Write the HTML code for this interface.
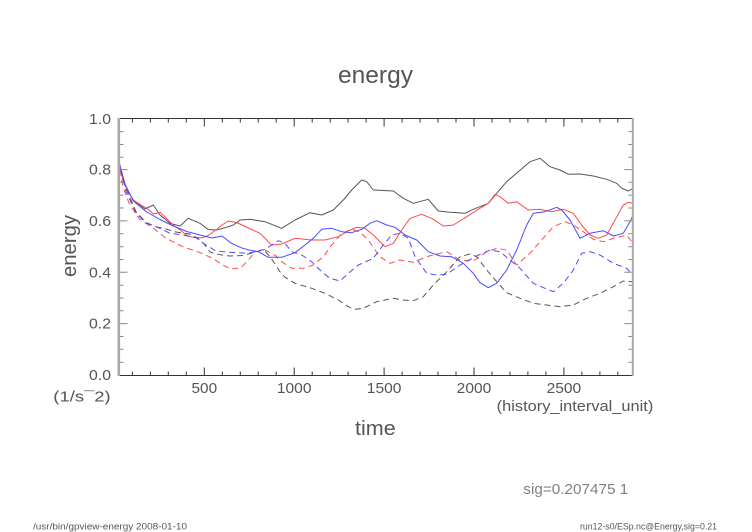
<!DOCTYPE html>
<html>
<head>
<meta charset="utf-8">
<style>
  html, body { margin: 0; padding: 0; background: #ffffff; }
  body { width: 752px; height: 532px; overflow: hidden; }
  svg { display: block; }
  text { font-family: "Liberation Sans", "DejaVu Sans", sans-serif; fill: #555555; }
</style>
</head>
<body>
<svg width="752" height="532" viewBox="0 0 752 532" xmlns="http://www.w3.org/2000/svg">
  <rect x="0" y="0" width="752" height="532" fill="#ffffff"/>

  <!-- Title -->
  <text x="338" y="83" font-size="24" textLength="75" lengthAdjust="spacingAndGlyphs">energy</text>

  <!-- Series -->
  <g fill="none" stroke-width="1" stroke-linejoin="round">
    <!-- black solid -->
    <polyline stroke="#555555" points="118.5,160 123.3,181.7 128.3,191.7 133.3,200 145,209 153.3,205 160,215 170,223.3 180,226 188.3,218.3 200,223.3 208.3,229.5 216,230 223.3,228.3 233.3,225 240,220 250,219.3 265,221.7 281.7,228.3 295,220 310,212.7 321.7,215 333.3,210 343.3,200 351.7,190 361.7,180 366.7,181.7 373.3,190 393.3,191 403.3,198.3 413.3,203.3 428.3,199.3 438.3,211 450,212.3 465,213.3 473.3,209.3 488.3,203.3 496.7,193.3 506.7,181.7 518.3,171.7 530,161.7 540,158.3 550,166.7 560,170 568.3,174.3 580,174 593.3,176 606.7,179.3 616.7,183.3 621.7,188.3 628.3,191 632.7,188.5"/>
    <!-- black dashed -->
    <polyline stroke="#555555" stroke-dasharray="6,4" points="118.5,160 126,188.3 136,211.7 146,222.5 156,226.7 166,229 176,232 189.3,234 197.7,238 204.3,244.3 210,252 216,254 229.3,256 242.7,255.5 256.7,251.7 263.3,249.3 270,256.7 275,264 280,271.7 285,277.3 295,283.3 311.7,288.3 325,293.3 338.3,300 348.3,306.7 355,309.3 363.3,308.3 376.7,301.7 393.3,298.3 403.3,300 413.3,300.7 423.3,296.7 433.3,285 446.7,271.7 460,256.7 470,254 476.7,256.7 486.7,270 496.7,281.7 506.7,292.7 520,298.3 533.3,303.3 546.7,305 560,306.7 573.3,305 586.7,298.3 600,293.3 613.3,286.7 623.3,281 632.7,281.7"/>
    <!-- red solid -->
    <polyline stroke="#ff4a4a" points="118.5,160 123.3,181.7 128.3,191.7 133.3,200 141,205 146.7,208.3 153.3,214 160,212.3 166,218 174.3,226 180,230 187.7,236 193.3,237.3 202.7,237.7 208,235.5 216,230 222,225 228.3,221 234,222 240,224 249.3,228.5 260,233.3 271.7,245 281.7,244 295,238.3 311.7,240 325,240 338.3,236.7 348.3,231 356.7,227.3 365,228.3 373.3,235 385,246.7 393.3,243.3 401.7,230 410,218.3 421.7,214.3 431.7,218.3 443.3,226 453.3,225 466.7,216.7 478.3,209.3 488.3,203.3 495,194.3 500,196.7 508.3,203.3 516.7,201.7 528.3,210 540,209.3 551.7,211.7 563.3,209.3 573.3,213.3 581.7,225 590,235 598.3,238.3 606.7,235 615,220 623.3,205 628.3,202.3 632.7,203.3"/>
    <!-- red dashed -->
    <polyline stroke="#ff4a4a" stroke-dasharray="6,4" points="118.5,160 122.7,186 129.3,204 139.3,219 152.7,227.7 166,238.3 182.7,246.7 199.3,252.3 212.7,258.3 222.7,265 231,269 241,267.7 249.3,259 255,251.7 265,250 275,255 281.7,261.7 291.7,268.3 303.3,268.3 313.3,265 323.3,256.7 331.7,245 341.7,233.3 351.7,229.3 360,232 368.3,240 375,250 380,256.7 390,263.3 400,260 413.3,262.3 426.7,256.7 440,253.3 446.7,251.7 460,260 473.3,261 486.7,251.7 496.7,248.3 506.7,250 516.7,265 530,253.3 541.7,240 553.3,226.7 565,221.7 573.3,225 583.3,231.7 593.3,239.3 603.3,241.7 613.3,238.3 626.7,235 632.7,243"/>
    <!-- blue solid -->
    <polyline stroke="#4a4aff" points="118.5,160 125,184 133.3,201 146.7,212 160,219.5 173.3,226 186.7,231.5 200,235 212,238 222,236 231,243 241,247.7 249,250 258.3,251.7 268.3,257.3 281.7,257.3 295,252.7 305,245 313.3,238.3 321.7,229.3 331.7,228.3 341.7,231.7 351.7,232.7 361.7,229.3 370,223.3 376.7,220.7 386.7,225 395,227.3 405,235 416.7,240 428.3,251.7 440,256 451.7,256.7 463.3,263.3 473.3,273.3 480,282.7 488.3,287.7 496.7,283.3 506.7,270 516.7,250 526.7,225 533.3,213.3 545,211.7 556.7,207.3 561.7,210 570,220 580,238.3 590,233.3 603.3,230.7 613.3,236 623.3,233.3 630,221.7 632.7,216"/>
    <!-- blue dashed -->
    <polyline stroke="#4a4aff" stroke-dasharray="6,4" points="118.5,160 126,191.7 136,213 146,223 159.3,228 169.3,233 182.7,235 196,237.7 206,245 216,251 229.3,252.3 242.7,253 249.3,253 255,251.7 265,249.3 271.7,245 278.3,240.7 285,243.3 291.7,251.7 301.7,255 311.7,261.7 321.7,271.7 330,278.3 340,281 348.3,273.3 358.3,265 373.3,258.3 383.3,245 391.7,235 400,233.3 408.3,238.3 415,256.7 426.7,273.3 436.7,275 446.7,274.3 460,265 475,256.7 490,250 500,251.7 510,260 520,268.3 533.3,283.3 545,288.3 553.3,291.7 563.3,283.3 573.3,270 581.7,253.3 590,251.7 600,255 613.3,263.3 626.7,268.3 632.7,275"/>
  </g>

  <!-- Axes frame -->
  <line x1="118.5" y1="118.5" x2="633" y2="118.5" stroke="#333333" stroke-width="1"/>
  <line x1="118.5" y1="375.5" x2="633" y2="375.5" stroke="#333333" stroke-width="1"/>
  <line x1="118.8" y1="118" x2="118.8" y2="376" stroke="#a8a8a8" stroke-width="2.6"/>
  <line x1="632.8" y1="118" x2="632.8" y2="376" stroke="#a8a8a8" stroke-width="2"/>

  <!-- X ticks (bottom & top) -->
  <g stroke="#333333" stroke-width="1">
    <path d="M132.4,375 v-3.5 M150.4,375 v-3.5 M168.3,375 v-3.5 M186.3,375 v-3.5 M222.3,375 v-3.5 M240.3,375 v-3.5 M258.2,375 v-3.5 M276.2,375 v-3.5 M312.2,375 v-3.5 M330.2,375 v-3.5 M348.1,375 v-3.5 M366.1,375 v-3.5 M402.1,375 v-3.5 M420.1,375 v-3.5 M438.0,375 v-3.5 M456.0,375 v-3.5 M492.0,375 v-3.5 M510.0,375 v-3.5 M527.9,375 v-3.5 M545.9,375 v-3.5 M581.9,375 v-3.5 M599.9,375 v-3.5 M617.8,375 v-3.5"/>
    <path d="M204.3,375 v-7.5 M294.2,375 v-7.5 M384.1,375 v-7.5 M474.0,375 v-7.5 M563.9,375 v-7.5"/>
    <path d="M132.4,119 v3.5 M150.4,119 v3.5 M168.3,119 v3.5 M186.3,119 v3.5 M222.3,119 v3.5 M240.3,119 v3.5 M258.2,119 v3.5 M276.2,119 v3.5 M312.2,119 v3.5 M330.2,119 v3.5 M348.1,119 v3.5 M366.1,119 v3.5 M402.1,119 v3.5 M420.1,119 v3.5 M438.0,119 v3.5 M456.0,119 v3.5 M492.0,119 v3.5 M510.0,119 v3.5 M527.9,119 v3.5 M545.9,119 v3.5 M581.9,119 v3.5 M599.9,119 v3.5 M617.8,119 v3.5"/>
    <path d="M204.3,119 v7.5 M294.2,119 v7.5 M384.1,119 v7.5 M474.0,119 v7.5 M563.9,119 v7.5"/>
  </g>

  <!-- Y ticks (left & right) -->
  <g stroke="#888888" stroke-width="1">
    <path d="M120,144.5 h3.5 M120,157.3 h3.5 M120,182.3 h3.5 M120,195.1 h3.5 M120,208.0 h3.5 M120,233.7 h3.5 M120,246.7 h3.5 M120,259.5 h3.5 M120,285.2 h3.5 M120,298.0 h3.5 M120,310.8 h3.5 M120,336.5 h3.5 M120,349.3 h3.5 M120,362.2 h3.5 M120,131.6 h3.5"/>
    <path d="M120,169.6 h7.5 M120,220.9 h7.5 M120,272.3 h7.5 M120,323.6 h7.5"/>
    <path d="M631.8,131.6 h-3.5 M631.8,144.5 h-3.5 M631.8,157.3 h-3.5 M631.8,182.3 h-3.5 M631.8,195.1 h-3.5 M631.8,208.0 h-3.5 M631.8,233.7 h-3.5 M631.8,246.7 h-3.5 M631.8,259.5 h-3.5 M631.8,285.2 h-3.5 M631.8,298.0 h-3.5 M631.8,310.8 h-3.5 M631.8,336.5 h-3.5 M631.8,349.3 h-3.5 M631.8,362.2 h-3.5"/>
    <path d="M631.8,169.6 h-7.5 M631.8,220.9 h-7.5 M631.8,272.3 h-7.5 M631.8,323.6 h-7.5"/>
  </g>

  <!-- Y tick labels -->
  <g font-size="15">
    <text x="89" y="124" textLength="22" lengthAdjust="spacingAndGlyphs">1.0</text>
    <text x="89" y="174.6" textLength="22" lengthAdjust="spacingAndGlyphs">0.8</text>
    <text x="89" y="226" textLength="22" lengthAdjust="spacingAndGlyphs">0.6</text>
    <text x="89" y="277.3" textLength="22" lengthAdjust="spacingAndGlyphs">0.4</text>
    <text x="89" y="328.6" textLength="22" lengthAdjust="spacingAndGlyphs">0.2</text>
    <text x="89" y="380" textLength="22" lengthAdjust="spacingAndGlyphs">0.0</text>
  </g>

  <!-- X tick labels -->
  <g font-size="15">
    <text x="191.5" y="393" textLength="25.6" lengthAdjust="spacingAndGlyphs">500</text>
    <text x="276.9" y="393" textLength="34.6" lengthAdjust="spacingAndGlyphs">1000</text>
    <text x="366.8" y="393" textLength="34.6" lengthAdjust="spacingAndGlyphs">1500</text>
    <text x="456.7" y="393" textLength="34.6" lengthAdjust="spacingAndGlyphs">2000</text>
    <text x="546.6" y="393" textLength="34.6" lengthAdjust="spacingAndGlyphs">2500</text>
  </g>

  <!-- Units -->
  <text x="496.7" y="411" font-size="15" textLength="156.6" lengthAdjust="spacingAndGlyphs">(history_interval_unit)</text>
  <text x="53.3" y="401.5" font-size="15" textLength="57.4" lengthAdjust="spacingAndGlyphs">(1/s¯2)</text>

  <!-- Axis titles -->
  <text x="355" y="435" font-size="20" textLength="40.7" lengthAdjust="spacingAndGlyphs">time</text>
  <text transform="translate(76,277) rotate(-90)" x="0" y="0" font-size="20" textLength="62" lengthAdjust="spacingAndGlyphs">energy</text>

  <!-- Annotation -->
  <text x="523.3" y="494" font-size="15" style="fill:#808080" textLength="105" lengthAdjust="spacingAndGlyphs">sig=0.207475 1</text>

  <!-- Footers -->
  <text x="33" y="529.5" font-size="9" style="fill:#555555" textLength="154" lengthAdjust="spacingAndGlyphs">/usr/bin/gpview-energy  2008-01-10</text>
  <text x="580" y="529.5" font-size="9" style="fill:#555555" textLength="137" lengthAdjust="spacingAndGlyphs">run12-s0/ESp.nc@Energy,sig=0.21</text>
</svg>
</body>
</html>
